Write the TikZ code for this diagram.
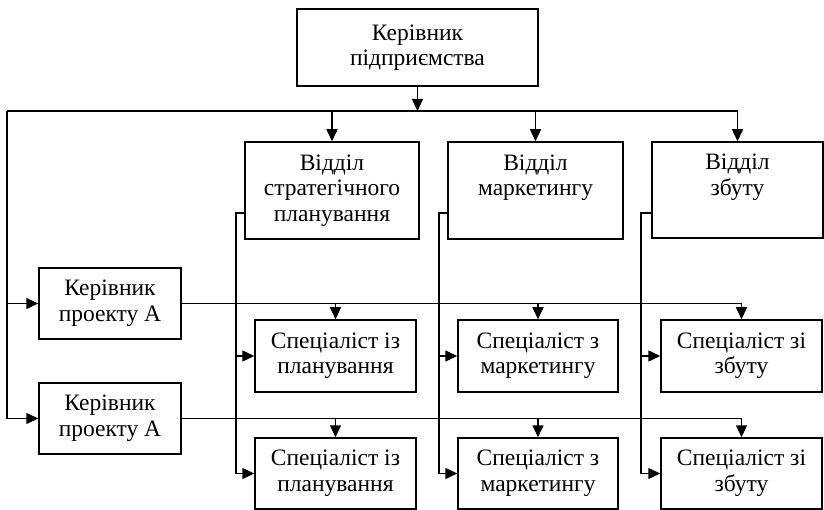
\documentclass[tikz,border=0pt]{standalone}
\usepackage{fontspec}
\setmainfont{Liberation Serif}
\usetikzlibrary{arrows.meta}
\begin{document}
\begin{tikzpicture}[x=1pt,y=-1pt,
  box/.style={draw, line width=1.5pt, rectangle, inner sep=0pt, align=center,
    font=\fontsize{23.5}{25.5}\selectfont},
  link/.style={draw, line width=1.5pt},
  arr/.style={link, -{Triangle[length=12pt,width=11pt]}}]
\useasboundingbox (0,0) rectangle (824,510);

% head of the enterprise
\node[box, minimum width=241, minimum height=77] (boss) at (417.5,47.5) {Керівник\\підприємства};

% departments
\node[box, minimum width=174, minimum height=97] (dplan) at (332,190.5) {\strut Відділ\\\strut стратегічного\\\strut планування};
\node[box, minimum width=175, minimum height=97] (dmkt) at (535.5,190.5) {\strut Відділ\\\strut маркетингу\\\strut};
\node[box, minimum width=171, minimum height=96] (dsal) at (737.5,190) {\strut Відділ\\\strut збуту\\\strut};

% project managers
\node[box, minimum width=142, minimum height=71] (pm1) at (110,303.5) {Керівник\\проекту А};
\node[box, minimum width=142, minimum height=71] (pm2) at (110,418.5) {Керівник\\проекту А};

% specialists, first row
\node[box, minimum width=161, minimum height=72] (sp1) at (335.5,356) {Спеціаліст із\\планування};
\node[box, minimum width=160, minimum height=72] (sm1) at (538,356) {Спеціаліст з\\маркетингу};
\node[box, minimum width=161, minimum height=72] (ss1) at (741.5,356) {Спеціаліст зі\\збуту};

% specialists, second row
\node[box, minimum width=161, minimum height=71] (sp2) at (335.5,473.5) {Спеціаліст із\\планування};
\node[box, minimum width=160, minimum height=71] (sm2) at (538,473.5) {Спеціаліст з\\маркетингу};
\node[box, minimum width=161, minimum height=71] (ss2) at (741.5,473.5) {Спеціаліст зі\\збуту};

% main bus below the head
\coordinate (bus) at (7,111);
\draw[arr] (boss.south) -- (boss.south |- bus);
\draw[link] (bus) -- (dsal.north |- bus);
\draw[arr] (dplan.north |- bus) -- (dplan.north);
\draw[arr] (dmkt.north |- bus) -- (dmkt.north);
\draw[arr] (dsal.north |- bus) -- (dsal.north);

% left riser to the project managers
\draw[link] (bus) -- (bus |- pm2.west);
\draw[arr] (bus |- pm1.west) -- (pm1.west);
\draw[arr] (bus |- pm2.west) -- (pm2.west);

% project manager lines to the specialists
\draw[link] (pm1.east) -- (ss1.north |- pm1.east);
\draw[arr] (sp1.north |- pm1.east) -- (sp1.north);
\draw[arr] (sm1.north |- pm1.east) -- (sm1.north);
\draw[arr] (ss1.north |- pm1.east) -- (ss1.north);
\draw[link] (pm2.east) -- (ss2.north |- pm2.east);
\draw[arr] (sp2.north |- pm2.east) -- (sp2.north);
\draw[arr] (sm2.north |- pm2.east) -- (sm2.north);
\draw[arr] (ss2.north |- pm2.east) -- (ss2.north);

% department risers to their specialists
\coordinate (jp) at (236,213);
\coordinate (jm) at (439,213);
\coordinate (js) at (641,213);
\draw[link] (dplan.west |- jp) -- (jp) -- (jp |- sp2.west);
\draw[arr] (jp |- sp1.west) -- (sp1.west);
\draw[arr] (jp |- sp2.west) -- (sp2.west);
\draw[link] (dmkt.west |- jm) -- (jm) -- (jm |- sm2.west);
\draw[arr] (jm |- sm1.west) -- (sm1.west);
\draw[arr] (jm |- sm2.west) -- (sm2.west);
\draw[link] (dsal.west |- js) -- (js) -- (js |- ss2.west);
\draw[arr] (js |- ss1.west) -- (ss1.west);
\draw[arr] (js |- ss2.west) -- (ss2.west);
\end{tikzpicture}
\end{document}
